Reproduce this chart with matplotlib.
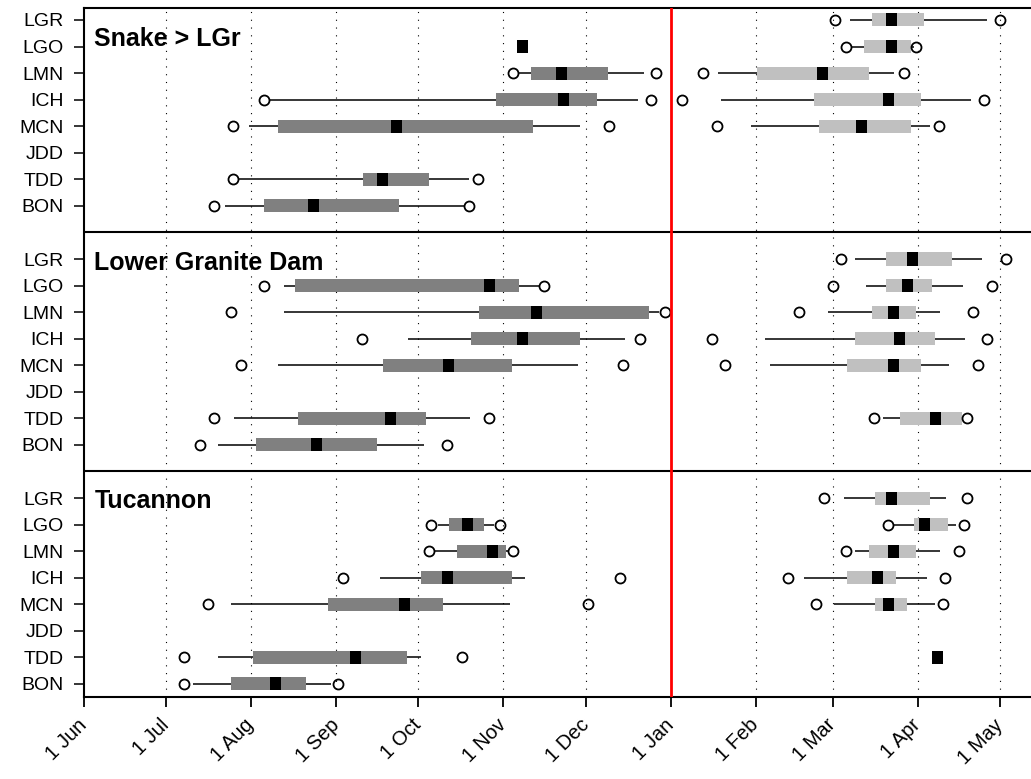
import matplotlib.pyplot as plt
from matplotlib.transforms import ScaledTranslation

plt.rcParams['font.family'] = ['Liberation Sans', 'DejaVu Sans']

# sites, top to bottom in every panel
sites = ['LGR', 'LGO', 'LMN', 'ICH', 'MCN', 'JDD', 'TDD', 'BON']
panel_titles = ['Snake > LGr', 'Lower Granite Dam', 'Tucannon']

# x axis: days since 1 Jun
month_labels = ['1 Jun', '1 Jul', '1 Aug', '1 Sep', '1 Oct', '1 Nov',
                '1 Dec', '1 Jan', '1 Feb', '1 Mar', '1 Apr', '1 May']
month_days = [0, 30, 61, 92, 122, 153, 183, 214, 245, 273, 304, 334]
year_end = 214

# stats per site: (outlier low, whisker low, q1, median, q3, whisker high, outlier high)
snake_fall = {
    'LGO': (None, None, None, 159.8, None, None, None),
    'LMN': (156.6, 158.5, 163.1, 174.0, 191.0, 204.1, 208.6),
    'ICH': (65.7, 67.8, 150.3, 175.0, 187.0, 201.9, 206.8),
    'MCN': (54.4, 60.2, 71.0, 113.9, 163.9, 180.9, 191.6),
    'TDD': (54.4, 56.5, 102.0, 108.8, 126.0, 140.6, 143.6),
    'BON': (47.5, 51.7, 65.9, 83.9, 114.9, 138.5, 140.6),
}
snake_spring = {
    'LGR': (273.6, 279.3, 287.3, 294.2, 306.1, 329.2, 333.9),
    'LGO': (277.8, 279.6, 284.4, 294.2, 301.4, 302.5, 303.1),
    'LMN': (225.8, 231.1, 245.3, 269.1, 286.3, 295.1, 298.8),
    'ICH': (218.0, 232.1, 266.3, 293.3, 305.2, 323.4, 327.9),
    'MCN': (230.8, 243.1, 268.1, 283.3, 301.3, 308.2, 311.8),
}
lgr_fall = {
    'LGO': (65.7, 72.9, 76.9, 147.9, 158.8, 166.1, 167.7),
    'LMN': (53.6, 72.9, 144.0, 164.9, 205.9, 209.8, 211.7),
    'ICH': (101.5, 118.1, 141.0, 159.8, 180.9, 197.1, 202.7),
    'MCN': (57.4, 71.0, 109.0, 133.0, 156.0, 180.1, 196.7),
    'TDD': (47.5, 55.0, 78.1, 111.8, 124.8, 140.9, 147.6),
    'BON': (42.5, 48.9, 62.9, 84.8, 106.8, 123.9, 132.5),
}
lgr_spring = {
    'LGR': (275.9, 281.2, 292.2, 302.1, 316.3, 327.2, 335.9),
    'LGO': (272.9, 285.1, 292.2, 300.1, 309.2, 320.3, 330.9),
    'LMN': (260.8, 271.2, 287.3, 295.2, 303.1, 312.1, 324.0),
    'ICH': (228.8, 248.1, 281.2, 297.3, 310.3, 321.3, 329.1),
    'MCN': (233.8, 250.1, 278.2, 295.2, 305.2, 315.2, 326.0),
    'TDD': (287.8, 291.4, 297.3, 310.3, 320.1, 320.5, 321.9),
}
tuc_fall = {
    'LGO': (126.7, 129.0, 133.0, 139.8, 145.8, 149.7, 151.8),
    'LMN': (125.7, 128.0, 136.0, 149.1, 154.0, 154.5, 156.4),
    'ICH': (94.5, 108.1, 123.0, 132.7, 156.0, 160.9, 195.6),
    'MCN': (45.5, 53.8, 89.0, 116.9, 130.9, 155.2, 183.7),
    'TDD': (36.5, 48.9, 61.9, 99.0, 117.9, 123.0, 137.8),
    'BON': (36.5, 39.8, 53.8, 69.9, 80.9, 90.2, 92.6),
}
tuc_spring = {
    'LGR': (269.8, 277.2, 288.2, 294.2, 308.2, 314.3, 321.9),
    'LGO': (293.0, 295.0, 302.4, 306.4, 315.1, 318.0, 320.9),
    'LMN': (277.8, 281.2, 286.3, 295.2, 303.3, 312.1, 318.9),
    'ICH': (256.8, 262.3, 278.2, 289.1, 296.1, 307.2, 313.9),
    'MCN': (266.9, 273.3, 288.2, 293.3, 300.1, 310.3, 313.0),
    'TDD': (None, None, None, 311.2, None, None, None),
}

panels = [(snake_fall, snake_spring), (lgr_fall, lgr_spring), (tuc_fall, tuc_spring)]
fall_col = '#808080'
spring_col = '#c0c0c0'

fig = plt.figure(figsize=(10.31, 7.79), dpi=100)
ax = fig.add_axes([83.5 / 1031, 1 - 697 / 779, 1 - 83.5 / 1031, 689 / 779])

box_h = 0.49
med_w = 4.0
yticks = []
for p, (fall, spring) in enumerate(panels):
    y0 = p * 9
    for i, site in enumerate(sites):
        y = y0 + i
        yticks.append(y)
        for stats, col in ((fall, fall_col), (spring, spring_col)):
            if site not in stats:
                continue
            olo, wlo, q1, med, q3, whi, ohi = stats[site]
            if q1 is not None:
                ax.hlines(y, wlo, q1, color='black', lw=1.1, zorder=2)
                ax.hlines(y, q3, whi, color='black', lw=1.1, zorder=2)
                ax.barh(y, q3 - q1, left=q1, height=box_h, color=col, zorder=3)
            ax.barh(y, med_w, left=med - med_w / 2, height=box_h, color='black', zorder=4)
            outs = [v for v in (olo, ohi) if v is not None]
            if outs:
                ax.plot(outs, [y] * len(outs), 'o', ms=7.2, mfc='none', mec='black',
                        mew=1.3, zorder=5)

# panel separators
for p in (1, 2):
    ax.axhline(p * 9 - 1, color='black', lw=1.5, zorder=6)

# monthly dotted guides and the year boundary
for d in month_days[1:]:
    if d != year_end:
        ax.axvline(d, color='black', lw=0.8, ls=(0, (1, 6)), zorder=1)
ax.axvline(year_end, color='red', lw=2.0, zorder=6)

title_y = [0.97, 9.41, 18.36]
for t, ty in zip(panel_titles, title_y):
    ax.text(4.0, ty, t, fontsize=18, fontweight='bold', va='baseline', ha='left', zorder=7)

ax.set_xlim(0, (1031 - 83.5) / 2.745)
ax.set_ylim(25.49, -0.45)
ax.set_yticks(yticks)
ax.set_yticklabels(sites * 3, fontsize=14)
ax.set_xticks(month_days)
ax.set_xticklabels(month_labels, fontsize=14.5, rotation=45, ha='right',
                   va='center', rotation_mode='anchor')
shift = ScaledTranslation(5 / 100, 0, fig.dpi_scale_trans)
for lab in ax.get_xticklabels():
    lab.set_transform(lab.get_transform() + shift)
ax.tick_params(axis='y', direction='out', length=7, width=1.1, pad=7)
ax.tick_params(axis='x', direction='out', length=7, width=1.3, pad=11)
ax.spines['right'].set_visible(False)
for s in ('left', 'top', 'bottom'):
    ax.spines[s].set_linewidth(1.5)

fig.savefig('out.png', dpi=100)
